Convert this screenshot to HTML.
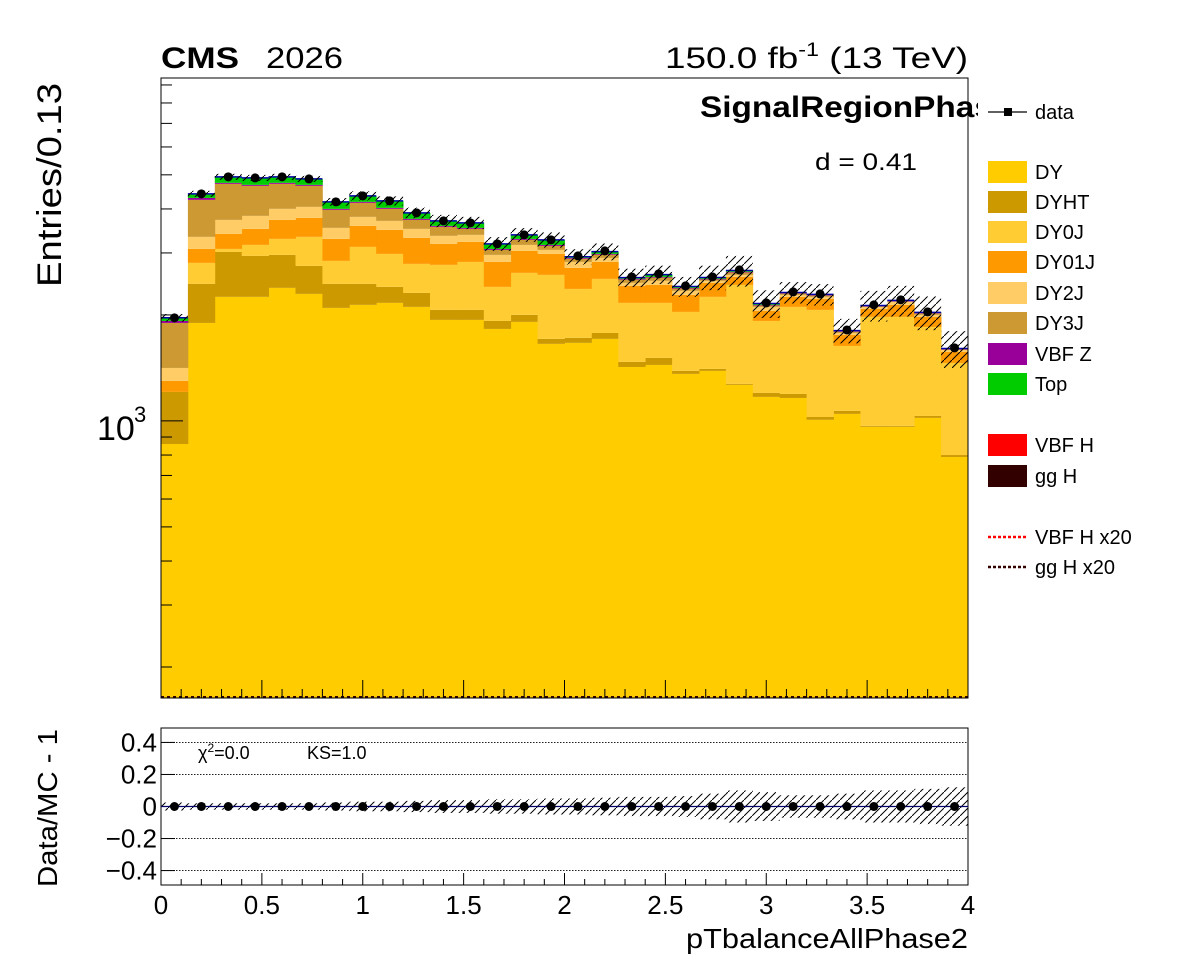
<!DOCTYPE html>
<html><head><meta charset="utf-8">
<style>
html,body{margin:0;padding:0;background:#fff;}
svg{display:block;font-family:"Liberation Sans",Arial,sans-serif;}
</style></head>
<body>
<svg id="c" width="1196" height="972" viewBox="0 0 1196 972" xmlns="http://www.w3.org/2000/svg">
<defs>
<pattern id="hatch" width="8" height="8" patternUnits="userSpaceOnUse">
<path d="M0,8 L8,0" stroke="#000" stroke-width="1"/>
</pattern>
<clipPath id="mainClip"><rect x="161" y="78" width="807" height="620"/></clipPath>
<clipPath id="ratioClip"><rect x="161" y="728" width="807" height="157"/></clipPath>
</defs>
<g id="mainStack" clip-path="url(#mainClip)"></g>
<g id="ratioG"></g>
<g id="axes"></g>
<text x="161" y="68" font-size="30" font-weight="bold" textLength="78" lengthAdjust="spacingAndGlyphs">CMS</text>
<text x="266" y="68" font-size="30" textLength="77" lengthAdjust="spacingAndGlyphs">2026</text>
<text x="665" y="68" font-size="30" textLength="303" lengthAdjust="spacingAndGlyphs">150.0 fb<tspan dy="-12" font-size="19">-1</tspan><tspan dy="12"> (13 TeV)</tspan></text>
<text x="700" y="117" font-size="30" font-weight="bold" textLength="330" lengthAdjust="spacingAndGlyphs">SignalRegionPhase2</text>
<rect x="978" y="90" width="218" height="40" fill="#fff"/>
<text x="815" y="170" font-size="24" textLength="102" lengthAdjust="spacingAndGlyphs">d = 0.41</text>
<text transform="translate(61,287) rotate(-90)" font-size="34" textLength="204" lengthAdjust="spacingAndGlyphs">Entries/0.13</text>
<text transform="translate(57,887) rotate(-90)" font-size="28" textLength="158" lengthAdjust="spacingAndGlyphs">Data/MC - 1</text>
<text x="968" y="948" font-size="28" text-anchor="end" textLength="282" lengthAdjust="spacingAndGlyphs">pTbalanceAllPhase2</text>
<text x="198" y="759" font-size="18">χ<tspan dy="-7" font-size="12">2</tspan><tspan dy="7">=0.0</tspan></text>
<text x="307" y="759" font-size="18">KS=1.0</text>
<g id="legend"></g>
</svg>
<script>
const binEdgesMin = 0, binEdgesMax = 4;
const categories = ["b0","b1","b2","b3","b4","b5","b6","b7","b8","b9","b10","b11","b12","b13","b14","b15","b16","b17","b18","b19","b20","b21","b22","b23","b24","b25","b26","b27","b28","b29"];
const dyValues    = [860,1898,2251,2251,2387,2295,2094,2136,2164,2108,1936,1936,1825,1911,1655,1666,1710,1423,1442,1360,1387,1266,1170,1162,1007,1047,962,962,1020,790];
const dyhtValues  = [349,552,769,691,575,461,356,314,239,202,131,131,98,90,55,55,68,48,68,27,18,8,31,31,19,21,6,6,13,10];
const dy0jValues  = [0,361,60,220,327,577,398,671,578,483,708,762,480,632,889,650,754,693,654,653,846,1160,722,915,1041,565,1007,1007,816,661];
const dy01jValues = [90,269,320,350,435,440,441,460,508,518,409,397,426,407,382,350,297,254,270,240,215,131,131,143,154,122,106,161,126,109];
const dy2jValues  = [115,253,324,311,279,282,246,217,211,201,171,151,133,122,79,108,75,48,65,61,33,34,54,29,30,23,27,43,26,21];
const dy3jValues  = [484,912,990,829,711,597,442,365,303,212,203,135,98,106,81,60,62,54,54,36,23,42,20,22,21,15,6,6,20,4];
const vbfzValues  = [25,55,31,31,31,31,26,27,26,25,23,23,20,21,21,15,15,12,12,10,10,10,8,8,8,8,8,8,6,6];
const topValues   = [40,115,189,217,189,186,187,168,188,150,119,117,104,88,106,23,44,21,39,21,23,24,20,7,7,4,6,6,7,5];
const dataValues  = [1962,4415,4934,4900,4934,4869,4190,4358,4217,3899,3700,3652,3184,3377,3268,2942,3040,2565,2616,2418,2565,2685,2164,2325,2295,1813,2136,2207,2040,1612];
const relErrValues= [0.025,0.02,0.02,0.02,0.02,0.02,0.025,0.03,0.03,0.035,0.04,0.04,0.045,0.045,0.05,0.05,0.055,0.06,0.06,0.065,0.08,0.1,0.09,0.07,0.07,0.08,0.1,0.1,0.11,0.12];
const ratioValues = [0,0,0,0,0,0,0,0,0,0,0,0,0,0,0,0,0,0,0,0,0,0,0,0,0,0,0,0,0,0];
const xTickLabels = ["0","0.5","1","1.5","2","2.5","3","3.5","4"];
const ratioTickLabels = ["0.4","0.2","0","\u22120.2","\u22120.4"];
const ratioTickValues = [0.4,0.2,0,-0.2,-0.4];
const seriesNames = ["DY","DYHT","DY0J","DY01J","DY2J","DY3J","VBF Z","Top"];
const seriesColors = ["#ffcc00","#cc9900","#ffcc33","#ff9900","#ffcc66","#cc9933","#990099","#00cc00"];
const series = [dyValues,dyhtValues,dy0jValues,dy01jValues,dy2jValues,dy3jValues,vbfzValues,topValues];

const NS="http://www.w3.org/2000/svg";
const X0=161,X1=968,Y0=78,Y1=698;
const LMIN=2.213,LMAX=3.974;
const RY0=728,RY1=885,RMIN=-0.49,RMAX=0.49;
const nb=categories.length;
function xs(v){return X0+(v-binEdgesMin)/(binEdgesMax-binEdgesMin)*(X1-X0);}
function ys(v){const l=Math.log10(Math.max(v,1));return Y1-(l-LMIN)/(LMAX-LMIN)*(Y1-Y0);}
function ry(v){return RY1-(v-RMIN)/(RMAX-RMIN)*(RY1-RY0);}
function mk(tag,attrs,parent){const e=document.createElementNS(NS,tag);for(const k in attrs)e.setAttribute(k,attrs[k]);parent.appendChild(e);return e;}
const bw=(binEdgesMax-binEdgesMin)/nb;
const main=document.getElementById('mainStack');
const cum=new Array(nb).fill(0);
series.forEach((s,si)=>{
  for(let i=0;i<nb;i++){
    const lo=cum[i],hi=cum[i]+s[i];cum[i]=hi;
    if(s[i]<=0)continue;
    const xa=xs(binEdgesMin+i*bw),xb=xs(binEdgesMin+(i+1)*bw);
    const ya=ys(hi),yb=lo>0?ys(lo):Y1+5;
    const r=mk('rect',{x:xa,y:ya,width:xb-xa+0.4,height:yb-ya,fill:seriesColors[si]},main);
    
    
  }
});
for(let i=0;i<nb;i++){
  const xa=xs(binEdgesMin+i*bw),xb=xs(binEdgesMin+(i+1)*bw);
  const l=mk('line',{x1:xa,x2:xb,y1:ys(cum[i]),y2:ys(cum[i]),stroke:'#0000aa','stroke-width':1.5},main);
  
  
  const hi=cum[i]*(1+relErrValues[i]),lo=cum[i]*(1-relErrValues[i]);
  const h=mk('rect',{x:xa,y:ys(hi),width:xb-xa,height:ys(lo)-ys(hi),fill:'url(#hatch)'},main);
  
  
}
// dotted signal lines at bottom
const s1=mk('line',{x1:X0,x2:X1,y1:Y1-1,y2:Y1-1,stroke:'#330000','stroke-width':2,'stroke-dasharray':'3,3'},main);


for(let i=0;i<nb;i++){
  const cx=xs(binEdgesMin+(i+0.5)*bw);
  const c=mk('circle',{cx:cx,cy:ys(dataValues[i]),r:4.5,fill:'#000'},main);
  
  
}
// axes
const ax=document.getElementById('axes');
const f=mk('rect',{x:X0,y:Y0,width:X1-X0,height:Y1-Y0,fill:'none',stroke:'#000','stroke-width':1},ax);


for(let d=2;d<=3;d++){for(let m=1;m<=9;m++){
  const v=m*Math.pow(10,d);const l=Math.log10(v);if(l<LMIN||l>LMAX)continue;
  const y=ys(v);const len=(m===1)?22:11;
  const t=mk('line',{x1:X0,x2:X0+len,y1:y,y2:y,stroke:'#000','stroke-width':1},ax);
  
  
}}
const yl=mk('text',{x:97,y:440,'font-size':34},ax);
yl.textContent='10';


const ys3=mk('text',{x:134,y:422,'font-size':22},ax);
ys3.textContent='3';


for(let k=0;k<=40;k++){
  const v=k*0.1;const x=xs(v);const major=(k%5===0);
  const t=mk('line',{x1:x,x2:x,y1:Y1,y2:Y1-(major?18:9),stroke:'#000','stroke-width':1},ax);
  
  
  const t2=mk('line',{x1:x,x2:x,y1:RY1,y2:RY1-(major?12:6),stroke:'#000','stroke-width':1},ax);
  
  
}
xTickLabels.forEach((lab,i)=>{
  const t=mk('text',{x:xs(i*0.5),y:914,'font-size':26,'text-anchor':'middle'},ax);
  t.textContent=lab;
  
  
});
// ratio panel
const rg=document.getElementById('ratioG');
const rf=mk('rect',{x:X0,y:RY0,width:X1-X0,height:RY1-RY0,fill:'none',stroke:'#000','stroke-width':1},rg);


ratioTickValues.forEach((v,i)=>{
  const y=ry(v);
  if(v!==0){const g=mk('line',{x1:X0,x2:X1,y1:y,y2:y,stroke:'#000','stroke-width':0.8,'stroke-dasharray':'1.5,1.5'},rg);
  
  }
  const tk=mk('line',{x1:X0,x2:X0+14,y1:y,y2:y,stroke:'#000'},rg);
  
  
  const t=mk('text',{x:157,y:y+9,'font-size':26,'text-anchor':'end'},rg);
  t.textContent=ratioTickLabels[i];
  
  
});
const rc=mk('g',{'clip-path':'url(#ratioClip)'},rg);
for(let i=0;i<nb;i++){
  const xa=xs(binEdgesMin+i*bw),xb=xs(binEdgesMin+(i+1)*bw);
  const h=mk('rect',{x:xa,y:ry(relErrValues[i]),width:xb-xa,height:ry(-relErrValues[i])-ry(relErrValues[i]),fill:'url(#hatch)'},rc);
  
  
}
const zl=mk('line',{x1:X0,x2:X1,y1:ry(0),y2:ry(0),stroke:'#000066','stroke-width':1.2},rg);


for(let i=0;i<nb;i++){
  const c=mk('circle',{cx:xs(binEdgesMin+(i+0.5)*bw),cy:ry(ratioValues[i]),r:4.5,fill:'#000'},rg);
  
  
}
// legend
const lg=document.getElementById('legend');
const dl=mk('line',{x1:988,x2:1027,y1:112,y2:112,stroke:'#000','stroke-width':1.2},lg);


const dm=mk('rect',{x:1004,y:108,width:8,height:8,fill:'#000'},lg);


const dt=mk('text',{x:1035,y:119,'font-size':20},lg);
dt.textContent='data';


const legY=[172,202,232,262,293,323,354,384];
seriesNames.forEach((n,i)=>{
  const r=mk('rect',{x:988,y:legY[i]-11,width:39,height:22,fill:seriesColors[i]},lg);
  
  
  const t=mk('text',{x:1035,y:legY[i]+7,'font-size':20},lg);
  t.textContent=n;
  
  
});
const sigN=["VBF H","gg H"],sigC=["#ff0000","#330000"],sigY=[445,476];
sigN.forEach((n,i)=>{
  const r=mk('rect',{x:988,y:sigY[i]-11,width:39,height:22,fill:sigC[i]},lg);
  
  
  const t=mk('text',{x:1035,y:sigY[i]+7,'font-size':20},lg);
  t.textContent=n;
  
  
});
const sxN=["VBF H x20","gg H x20"],sxY=[537,567];
sxN.forEach((n,i)=>{
  const l=mk('line',{x1:988,x2:1027,y1:sxY[i],y2:sxY[i],stroke:sigC[i],'stroke-width':2.5,'stroke-dasharray':'3,2'},lg);
  
  
  const t=mk('text',{x:1035,y:sxY[i]+7,'font-size':20},lg);
  t.textContent=n;
  
  
});
</script>
</body></html>
